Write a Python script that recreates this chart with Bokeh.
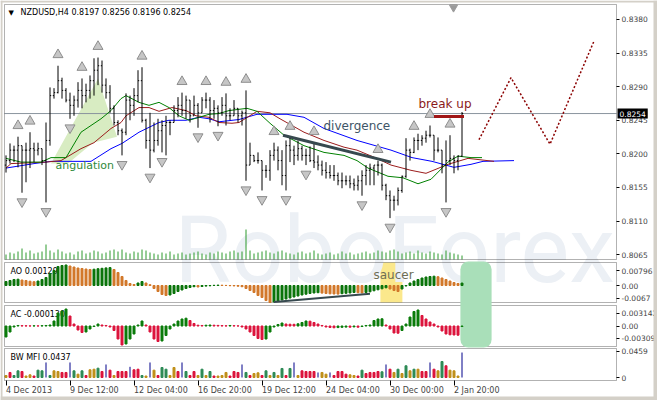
from bokeh.plotting import figure
from bokeh.models import (Range1d, FixedTicker, CustomJSTickFormatter, BoxAnnotation,
                          Label, LinearAxis)
from bokeh.core.properties import value
from bokeh.embed import file_html
from bokeh.resources import INLINE

SYMBOL = "NZDUSD,H4"

# ---------------- H4 bars ----------------
bar_open = [
    0.8185, 0.8191, 0.8205, 0.8205, 0.8211, 0.8205, 0.8205, 0.8207, 0.8205, 0.8207,
    0.8191, 0.8218, 0.8278, 0.8282, 0.8298, 0.8285, 0.8272, 0.8265, 0.8272, 0.8285,
    0.8278, 0.8285, 0.8298, 0.8312, 0.8318, 0.8292, 0.8282, 0.8261, 0.8242, 0.8231,
    0.8229, 0.8272, 0.8265, 0.8278, 0.8298, 0.8245, 0.8218, 0.8205, 0.8218, 0.8231,
    0.8238, 0.8242, 0.8242, 0.8258, 0.8265, 0.8258, 0.8272, 0.8251, 0.8265, 0.8255,
    0.8272, 0.8272, 0.8258, 0.8261, 0.8255, 0.8265, 0.8251, 0.8251, 0.8261, 0.8251,
    0.8255, 0.8185, 0.8198, 0.8191, 0.8191, 0.8178, 0.8178, 0.8198, 0.8205, 0.8191,
    0.8171, 0.8211, 0.8205, 0.8198, 0.8207, 0.8198, 0.8198, 0.8191, 0.8189, 0.8185,
    0.8178, 0.8175, 0.8171, 0.8171, 0.8164, 0.8164, 0.8164, 0.8160, 0.8158, 0.8164,
    0.8171, 0.8178, 0.8181, 0.8185, 0.8185, 0.8158, 0.8144, 0.8138, 0.8138, 0.8151,
    0.8170, 0.8205, 0.8202, 0.8218, 0.8218, 0.8221, 0.8225, 0.8225, 0.8205, 0.8205,
    0.8185, 0.8191, 0.8194, 0.8191, 0.8197]
bar_high = [
    0.8198, 0.8214, 0.8211, 0.8223, 0.8211, 0.8215, 0.8229, 0.8215, 0.8215, 0.8207,
    0.8242, 0.8289, 0.8288, 0.8318, 0.8302, 0.8288, 0.8282, 0.8278, 0.8296, 0.8301,
    0.8294, 0.8305, 0.8328, 0.8329, 0.8325, 0.8301, 0.8292, 0.8265, 0.8245, 0.8234,
    0.8281, 0.8278, 0.8288, 0.8312, 0.8316, 0.8247, 0.8255, 0.8242, 0.8247, 0.8245,
    0.8251, 0.8245, 0.8265, 0.8276, 0.8282, 0.8278, 0.8272, 0.8278, 0.8268, 0.8276,
    0.8282, 0.8276, 0.8272, 0.8265, 0.8276, 0.8281, 0.8261, 0.8272, 0.8261, 0.8258,
    0.8285, 0.8215, 0.8198, 0.8202, 0.8191, 0.8185, 0.8205, 0.8215, 0.8210, 0.8205,
    0.8218, 0.8222, 0.8211, 0.8218, 0.8211, 0.8207, 0.8210, 0.8215, 0.8198, 0.8191,
    0.8189, 0.8185, 0.8185, 0.8175, 0.8175, 0.8171, 0.8171, 0.8167, 0.8171, 0.8178,
    0.8185, 0.8187, 0.8185, 0.8191, 0.8187, 0.8160, 0.8151, 0.8144, 0.8155, 0.8171,
    0.8221, 0.8207, 0.8222, 0.8227, 0.8225, 0.8231, 0.8238, 0.8225, 0.8222, 0.8205,
    0.8218, 0.8225, 0.8198, 0.8198, 0.8256]
bar_low = [
    0.8175, 0.8187, 0.8189, 0.8182, 0.8148, 0.8162, 0.8181, 0.8189, 0.8198, 0.8185,
    0.8135, 0.8211, 0.8274, 0.8281, 0.8274, 0.8269, 0.8247, 0.8251, 0.8262, 0.8261,
    0.8269, 0.8274, 0.8278, 0.8292, 0.8282, 0.8274, 0.8255, 0.8238, 0.8225, 0.8198,
    0.8225, 0.8245, 0.8251, 0.8269, 0.8242, 0.8207, 0.8181, 0.8202, 0.8211, 0.8202,
    0.8198, 0.8225, 0.8242, 0.8249, 0.8251, 0.8247, 0.8242, 0.8251, 0.8235, 0.8255,
    0.8261, 0.8242, 0.8247, 0.8237, 0.8251, 0.8238, 0.8245, 0.8251, 0.8242, 0.8238,
    0.8164, 0.8185, 0.8189, 0.8187, 0.8151, 0.8168, 0.8164, 0.8191, 0.8178, 0.8158,
    0.8151, 0.8189, 0.8185, 0.8191, 0.8191, 0.8185, 0.8189, 0.8181, 0.8178, 0.8171,
    0.8167, 0.8167, 0.8164, 0.8158, 0.8154, 0.8158, 0.8154, 0.8151, 0.8151, 0.8144,
    0.8158, 0.8158, 0.8158, 0.8171, 0.8151, 0.8138, 0.8114, 0.8124, 0.8131, 0.8148,
    0.8168, 0.8191, 0.8201, 0.8205, 0.8211, 0.8215, 0.8222, 0.8191, 0.8202, 0.8174,
    0.8135, 0.8185, 0.8174, 0.8178, 0.8196]
bar_close = [
    0.8191, 0.8205, 0.8205, 0.8211, 0.8205, 0.8205, 0.8207, 0.8205, 0.8207, 0.8191,
    0.8218, 0.8278, 0.8282, 0.8298, 0.8285, 0.8272, 0.8265, 0.8272, 0.8285, 0.8278,
    0.8285, 0.8298, 0.8312, 0.8318, 0.8292, 0.8282, 0.8261, 0.8242, 0.8231, 0.8229,
    0.8272, 0.8265, 0.8278, 0.8298, 0.8245, 0.8218, 0.8205, 0.8218, 0.8231, 0.8238,
    0.8242, 0.8242, 0.8258, 0.8265, 0.8258, 0.8272, 0.8251, 0.8265, 0.8255, 0.8272,
    0.8272, 0.8258, 0.8261, 0.8255, 0.8265, 0.8251, 0.8251, 0.8261, 0.8251, 0.8255,
    0.8185, 0.8198, 0.8191, 0.8191, 0.8178, 0.8178, 0.8198, 0.8205, 0.8191, 0.8171,
    0.8211, 0.8205, 0.8198, 0.8207, 0.8198, 0.8198, 0.8191, 0.8189, 0.8185, 0.8178,
    0.8175, 0.8171, 0.8171, 0.8164, 0.8164, 0.8164, 0.8160, 0.8158, 0.8164, 0.8171,
    0.8178, 0.8181, 0.8185, 0.8185, 0.8158, 0.8144, 0.8138, 0.8138, 0.8151, 0.8170,
    0.8205, 0.8202, 0.8218, 0.8218, 0.8221, 0.8225, 0.8225, 0.8205, 0.8205, 0.8185,
    0.8191, 0.8194, 0.8191, 0.8197, 0.8254]
tick_volume = [
    500, 700, 600, 800, 1100, 700, 900, 600, 700, 800,
    1500, 900, 700, 1000, 800, 600, 700, 500, 800, 900,
    600, 700, 900, 800, 600, 700, 900, 1000, 800, 1000,
    700, 600, 800, 700, 1000, 900, 700, 600, 500, 700,
    600, 800, 500, 600, 700, 500, 600, 700, 800, 600,
    500, 700, 600, 800, 700, 600, 800, 900, 700, 800,
    3000, 900, 600, 700, 800, 900, 700, 600, 800, 900,
    700, 600, 500, 700, 800, 600, 700, 900, 600, 500,
    600, 700, 500, 600, 800, 600, 700, 500, 600, 700,
    800, 600, 700, 900, 800, 700, 900, 1000, 800, 600,
    700, 800, 600, 900, 700, 600, 800, 700, 600, 500,
    900, 700, 600, 500, 400]

# ---------------- Alligator (bar index, price) ----------------
jaw_x = [0, 7, 11.25, 21.25, 26.25, 29, 33.25, 38.25, 40.75, 45, 48.25, 50.75, 53.25,
         58.25, 62.75, 70.25, 74.5, 79.5, 87.75, 96.25, 101.5, 106.5, 112, 116.25, 119.25, 127]
jaw_y = [0.8181, 0.8187, 0.8190, 0.8190, 0.8207, 0.8214, 0.8229, 0.8242, 0.8245, 0.8245,
         0.8249, 0.8247, 0.8243, 0.8246, 0.8253, 0.8253, 0.8249, 0.8234, 0.8218, 0.8205,
         0.8195, 0.8190, 0.8182, 0.8186, 0.8190, 0.8191]
teeth_x = [0, 1.25, 10, 13.75, 18.75, 22, 26.25, 28.75, 30, 33.25, 35.75, 38.25, 41.5, 45,
           47.5, 50.75, 53.25, 56.5, 58.25, 62.75, 66, 68.5, 74.5, 79.5, 84.5, 87.75, 92.25,
           96.25, 101.25, 105, 110.5, 115.5, 122]
teeth_y = [0.8181, 0.8187, 0.8189, 0.8191, 0.8207, 0.8215, 0.8234, 0.8242, 0.8251, 0.8262,
           0.8262, 0.8257, 0.8262, 0.8258, 0.8251, 0.8249, 0.8242, 0.8241, 0.8242, 0.8257,
           0.8255, 0.8247, 0.8229, 0.8218, 0.8209, 0.8205, 0.8195, 0.8185, 0.8178, 0.8174,
           0.8186, 0.8194, 0.8190]
lips_x = [0, 3.75, 8.75, 11.25, 15, 18.75, 23.75, 26.25, 28.75, 30, 33.25, 35.75, 38.25,
          40.75, 43.25, 45.75, 48.25, 50.75, 53.25, 55.75, 60.25, 62.75, 66, 69.5, 74.5,
          79.5, 84.5, 87.75, 90.5, 95.5, 99.25, 103, 106.25, 110.5, 113, 116.25, 119]
lips_y = [0.8194, 0.8189, 0.8189, 0.8195, 0.8195, 0.8229, 0.8247, 0.8258, 0.8274, 0.8278,
          0.8269, 0.8265, 0.8269, 0.8262, 0.8251, 0.8245, 0.8249, 0.8253, 0.8254, 0.8258,
          0.8261, 0.8257, 0.8241, 0.8225, 0.8211, 0.8202, 0.8198, 0.8191, 0.8181, 0.8170,
          0.8168, 0.8160, 0.8166, 0.8189, 0.8197, 0.8195, 0.8195]

fractal_up = [3, 6, 13, 19, 23, 34, 44, 50, 55, 60, 67, 71, 77, 93, 102, 106, 111]
fractal_down = [4, 10, 16, 29, 36, 39, 48, 53, 60, 64, 70, 75, 89, 96, 110]

# ---------------- oscillators ----------------
ao = [
    0.00212, 0.00266, 0.00319, 0.00335, 0.00292, 0.00266, 0.00228, 0.00202, 0.00239, 0.00319,
    0.00425, 0.00637, 0.00797, 0.01009, 0.01062, 0.01089, 0.01035, 0.00982, 0.00929, 0.00903,
    0.00876, 0.00850, 0.00866, 0.00892, 0.00913, 0.00935, 0.00950, 0.00850, 0.00690, 0.00478,
    0.00266, 0.00106, 0.00053, 0.00133, 0.00212, 0.00133, 0.00042, -0.00159, -0.00319, -0.00478,
    -0.00531, -0.00504, -0.00425, -0.00319, -0.00239, -0.00159, -0.00106, -0.00064, -0.00080, -0.00053,
    -0.00032, -0.00016, 0.00011, 0.00021, 0.00016, 0.00005, -0.00011, -0.00021, -0.00037, -0.00064,
    -0.00159, -0.00266, -0.00372, -0.00531, -0.00637, -0.00797, -0.00903, -0.00876, -0.00823, -0.00770,
    -0.00717, -0.00664, -0.00611, -0.00558, -0.00504, -0.00462, -0.00425, -0.00398, -0.00382, -0.00404,
    -0.00425, -0.00441, -0.00451, -0.00457, -0.00435, -0.00414, -0.00398, -0.00372, -0.00382, -0.00393,
    -0.00372, -0.00335, -0.00281, -0.00228, -0.00175, -0.00122, -0.00186, -0.00266, -0.00319, -0.00186,
    -0.00027, 0.00133, 0.00239, 0.00319, 0.00398, 0.00451, 0.00478, 0.00494, 0.00467, 0.00398,
    0.00319, 0.00239, 0.00159, 0.00106, 0.00129]
ac = [
    -0.00276, -0.00151, -0.00025, 0.00013, 0.00008, 0.00005, 0.00003, 0.00005, 0.00003, 0.00008,
    0.00013, 0.00025, 0.00126, 0.00327, 0.00377, 0.00427, 0.00251, 0.00050, -0.00101, -0.00163,
    -0.00151, -0.00075, -0.00013, 0.00050, 0.00025, 0.00013, -0.00025, -0.00113, -0.00327, -0.00477,
    -0.00452, -0.00327, -0.00201, 0.00025, 0.00126, 0.00025, -0.00151, -0.00327, -0.00389, -0.00377,
    -0.00239, -0.00075, 0.00050, 0.00126, 0.00176, 0.00196, 0.00138, 0.00063, 0.00020, 0.00013,
    0.00020, 0.00025, 0.00020, 0.00015, 0.00010, 0.00005, 0.00013, 0.00008, 0.00003, -0.00025,
    -0.00075, -0.00151, -0.00239, -0.00314, -0.00339, -0.00327, -0.00151, -0.00025, 0.00038, 0.00075,
    0.00050, 0.00045, 0.00043, 0.00055, 0.00088, 0.00126, 0.00121, 0.00088, 0.00050, 0.00013,
    -0.00025, -0.00038, -0.00045, -0.00040, -0.00033, -0.00028, -0.00030, -0.00023, -0.00030, -0.00013,
    0.00013, 0.00025, 0.00138, 0.00176, 0.00181, 0.00025, -0.00075, -0.00176, -0.00181, -0.00113,
    0.00050, 0.00226, 0.00364, 0.00402, 0.00264, 0.00176, 0.00101, 0.00050, -0.00025, -0.00126,
    -0.00201, -0.00221, -0.00226, -0.00231, -0.00013]
mfi = [
    0.0035, 0.0088, 0.0035, 0.0117, 0.0105, 0.0026, 0.0047, 0.0026, 0.0128, 0.0117,
    0.0263, 0.0035, 0.0117, 0.0105, 0.0088, 0.0088, 0.0263, 0.0117, 0.0058, 0.0117,
    0.0035, 0.0135, 0.0145, 0.0163, 0.0105, 0.0228, 0.0128, 0.0035, 0.0105, 0.0105,
    0.0105, 0.0187, 0.0135, 0.0145, 0.0035, 0.0026, 0.0263, 0.0128, 0.0035, 0.0175,
    0.0145, 0.0035, 0.0175, 0.0105, 0.0263, 0.0105, 0.0035, 0.0105, 0.0035, 0.0145,
    0.0035, 0.0105, 0.0026, 0.0026, 0.0035, 0.0088, 0.0026, 0.0105, 0.0088, 0.0228,
    0.0088, 0.0035, 0.0070, 0.0082, 0.0035, 0.0117, 0.0035, 0.0088, 0.0035, 0.0158,
    0.0035, 0.0158, 0.0263, 0.0035, 0.0117, 0.0105, 0.0105, 0.0105, 0.0088, 0.0088,
    0.0058, 0.0088, 0.0035, 0.0105, 0.0105, 0.0058, 0.0047, 0.0035, 0.0026, 0.0128,
    0.0070, 0.0088, 0.0088, 0.0105, 0.0100, 0.0228, 0.0145, 0.0088, 0.0145, 0.0070,
    0.0205, 0.0117, 0.0145, 0.0145, 0.0105, 0.0105, 0.0263, 0.0145, 0.0117, 0.0280,
    0.0205, 0.0128, 0.0117, 0.0026, 0.0437]
# g = green, b = fade, f = fake, s = squat
mfi_kind = list("bsggsbbsgg" "fgbbssfgbg" "sbbgsfsbss" "sfssgbfbsg" "gbbsfgssbg"
                "bgsbbbsssf" "gsbbsgbgbg" "sgfbssssfb" "bfssssbbsg" "ssssgfsbgb"
                "gbgbssfsbg" "sbbbf")

# ---------------- drawn studies ----------------
forecast_x = [118.25, 126.25, 136, 147]
forecast_y = [0.8219, 0.8302, 0.8213, 0.8351]
divergence_x = [69.25, 96.25]
divergence_y = [0.8225, 0.8189]
ao_divergence_x = [67, 91]
ao_divergence_y = [-0.0088, -0.0044]
angulation_x = [23, 27.75, 21.75, 15.5, 11.25]
angulation_y = [0.8301, 0.8223, 0.8215, 0.8187, 0.8187]
break_x = [107, 114.5]
break_level = 0.8250
saucer_bars = (93.6, 99.1)
signal_bars = (113.6, 121.4)

# ---------------- axes ----------------
date_ticks = [0, 16, 32, 48, 64, 80, 96, 112]
date_labels = ["4 Dec 2013", "9 Dec 12:00", "12 Dec 04:00", "16 Dec 20:00",
               "19 Dec 12:00", "24 Dec 04:00", "30 Dec 00:00", "2 Jan 20:00"]
price_ticks = [0.8380, 0.8335, 0.8290, 0.8245, 0.8200, 0.8155, 0.8110, 0.8065]
ao_ticks, ao_tick_text = [0.00796, 0.0, -0.0067], ["0.00796", "0.00", "-0.0067"]
ac_ticks, ac_tick_text = [0.003142, 0.0, -0.00309], ["0.003142", "0.00", "-0.00309"]
mfi_ticks, mfi_tick_text = [0.0459, 0.0], ["0.0459", "0"]

# ---------------- layout on the canvas ----------------
W, H = 657, 400
CHART_L, CHART_R, CHART_B = 4, 616, 380   # panel area; value and date scales sit outside it
WINDOW_EDGE = "#d4d0c8"
BAR0_COL, BAR_STEP = 5.5, 4.0
PANELS = {  # name: (top row, bottom row, value at top, value at bottom)
    "main": (4, 259, 0.84000, 0.80586),
    "vol": (4, 259, 25500.0, 0.0),
    "ao": (262, 302, 0.01221, -0.00902),
    "ac": (305, 346, 0.00515, -0.00515),
    "mfi": (348, 380, 0.05075, -0.00525),
}


def unit(name):
    top, bot, vtop, vbot = PANELS[name]
    return (vtop - vbot) / (bot - top)


def row_value(name, row):
    top, bot, vtop, vbot = PANELS[name]
    return vtop - (row - top) * unit(name)


def value_row(name, v):
    top, bot, vtop, vbot = PANELS[name]
    return top + (vtop - v) / unit(name)


def full_range(name):
    return Range1d(start=row_value(name, H), end=row_value(name, 0))


def col_index(col):
    return (col - BAR0_COL) / BAR_STEP


FONT = "DejaVu Sans"
# advance widths (em) of DejaVu Sans, used to set the date captions flush left of their ticks
ADVANCE = {" ": 0.318, ":": 0.337, "D": 0.770, "J": 0.295, "a": 0.613, "c": 0.550,
           "e": 0.615, "n": 0.634}


def text_width(s, size):
    return sum(ADVANCE.get(ch, 0.636) for ch in s) * size


p = figure(width=W, height=H, x_range=Range1d(col_index(0), col_index(W)),
           y_range=full_range("main"), output_backend="svg", toolbar_location=None,
           y_axis_location="right", min_border=0)
p.extra_y_ranges = {n: full_range(n) for n in ("vol", "ao", "ac", "mfi")}
p.grid.visible = False
p.outline_line_color = None
p.background_fill_color = "white"
p.border_fill_color = "white"

idx = list(range(len(bar_close)))
chart_left, chart_right = col_index(CHART_L), col_index(CHART_R)

# watermark
p.text(x=[col_index(174)], y=[row_value("main", 250)], text=["RoboForex"],
       text_font=value("Roboto"), text_font_size="92px", text_color="#ecf0f5",
       text_baseline="alphabetic")

# highlighted areas
p.patch(angulation_x, angulation_y, fill_color="#d8ecc2", line_color=None)
p.add_layout(BoxAnnotation(left=saucer_bars[0], right=saucer_bars[1],
                           top=PANELS["ao"][2], bottom=PANELS["ao"][3], y_range_name="ao",
                           fill_color="#fbe88c", fill_alpha=1, line_color=None, level="underlay"))

# tick volumes along the bottom of the price panel
p.segment(x0=idx, x1=idx, y0=[0] * len(idx), y1=tick_volume, y_range_name="vol",
          line_color="#2c9a2c", line_width=1)

# price level of the last close
p.line([chart_left, chart_right], [bar_close[-1], bar_close[-1]], line_color="#8a949e",
       line_width=1)

# alligator
p.line(jaw_x, jaw_y, line_color="#0000ff", line_width=1)
p.line(teeth_x, teeth_y, line_color="#9b1c1c", line_width=1)
p.line(lips_x, lips_y, line_color="#008000", line_width=1)

# OHLC bars
tick_len = 0.3
p.segment(x0=idx, x1=idx, y0=bar_low, y1=bar_high, line_color="black", line_width=1)
p.segment(x0=[i - tick_len for i in idx], x1=idx, y0=bar_open, y1=bar_open,
          line_color="black", line_width=1)
p.segment(x0=idx, x1=[i + tick_len for i in idx], y0=bar_close, y1=bar_close,
          line_color="black", line_width=1)

# fractals
px_main = unit("main")
p.scatter(fractal_up, [bar_high[i] + 11 * px_main for i in fractal_up],
          marker="triangle", size=10, fill_color="#c6c6c6", line_color="#8e8e8e")
p.scatter(fractal_down, [bar_low[i] - 9 * px_main for i in fractal_down],
          marker="inverted_triangle", size=10, fill_color="#c6c6c6", line_color="#8e8e8e")
p.scatter([col_index(453)], [row_value("main", 7)], marker="inverted_triangle", size=8,
          fill_color="#9a9a9a", line_color="#9a9a9a")

# hand-drawn studies
p.line(divergence_x, divergence_y, line_color="#37494f", line_width=3)
p.line(break_x, [break_level, break_level], line_color="#a01616", line_width=3)
p.line(forecast_x, forecast_y, line_color="#8b0000", line_width=1.5, line_dash="2 2")

# panel frames
for name in ("main", "ao", "ac", "mfi"):
    top, bot, vtop, vbot = PANELS[name]
    kw = dict(left=chart_left, right=chart_right, top=vtop, bottom=vbot, fill_alpha=0,
              line_color="black", line_width=1, level="annotation")
    if name != "main":
        kw["y_range_name"] = name
    p.add_layout(BoxAnnotation(**kw))

# signal box over the AO and AC panels (covers the separators, sits under the bars)
box_kw = dict(left=signal_bars[0], right=signal_bars[1], top=PANELS["ao"][2] + unit("ao"),
              bottom=row_value("ao", 347), y_range_name="ao", fill_color="#a9dfb9",
              fill_alpha=1, line_color=None, level="annotation")
try:
    signal_box = BoxAnnotation(border_radius=8, **box_kw)
except AttributeError:
    signal_box = BoxAnnotation(**box_kw)
p.add_layout(signal_box)

# Awesome Oscillator
AO_UP, AO_DOWN = "#0b740b", "#d2782a"
ao_col = [AO_UP if i == 0 or ao[i] > ao[i - 1] else AO_DOWN for i in idx]
p.vbar(x=idx, top=ao, bottom=0, width=0.5, fill_color=ao_col, line_color=ao_col,
       line_width=1, y_range_name="ao", level="overlay")
p.line(ao_divergence_x, ao_divergence_y, line_color="#37494f", line_width=2,
       y_range_name="ao", level="overlay")

# Accelerator Oscillator
AC_UP, AC_DOWN = "#0a7d0a", "#dc143c"
ac_col = [AC_UP if i == 0 or ac[i] > ac[i - 1] else AC_DOWN for i in idx]
p.vbar(x=idx, top=ac, bottom=0, width=0.5, fill_color=ac_col, line_color=ac_col,
       line_width=1, y_range_name="ac", level="overlay")

# Market Facilitation Index
MFI_COLORS = {"g": "#2e8b57", "b": "#c0901a", "f": "#00008b", "s": "#dc143c"}
wide = [i for i in idx if mfi_kind[i] != "f"]
thin = [i for i in idx if mfi_kind[i] == "f"]
p.vbar(x=wide, top=[mfi[i] for i in wide], bottom=0, width=0.5,
       fill_color=[MFI_COLORS[mfi_kind[i]] for i in wide],
       line_color=[MFI_COLORS[mfi_kind[i]] for i in wide], line_width=1, y_range_name="mfi")
p.segment(x0=thin, x1=thin, y0=[0] * len(thin), y1=[mfi[i] for i in thin],
          line_color=MFI_COLORS["f"], line_width=1, y_range_name="mfi")


# texts
def add_label(x, y, text, size, color, panel="main", **extra):
    kw = dict(x=x, y=y, text=text, text_font=FONT, text_font_size=size, text_color=color,
              text_baseline="middle", **extra)
    if panel != "main":
        kw["y_range_name"] = panel
    lbl = Label(**kw)
    p.add_layout(lbl)
    return lbl


add_label(col_index(8), row_value("main", 12), "\u25bc", "7px", "black")
add_label(col_index(20), row_value("main", 12),
          f"{SYMBOL}  {bar_open[-1]:.4f} {bar_high[-1]:.4f} {bar_low[-1]:.4f} {bar_close[-1]:.4f}",
          "8px", "black")
add_label(col_index(10), row_value("ao", 271), f"AO {ao[-1]:.5f}", "8px", "black", "ao")
add_label(col_index(10), row_value("ac", 314), f"AC {ac[-1]:.6f}", "8px", "black", "ac")
add_label(col_index(10), row_value("mfi", 357), f"BW MFI {mfi[-1]:.4f}", "8px", "black", "mfi")
add_label(col_index(55), row_value("main", 165), "angulation", "11px", "#2f8a3a")
add_label(col_index(323), row_value("main", 125), "divergence", "12px", "#3e5567")
add_label(col_index(418), row_value("main", 103), "break up", "12px", "#8b1a1a")
add_label(col_index(373), row_value("ao", 274), "saucer", "12px", "#6e6e55", "ao")
# last-price tag in the value scale
tag = add_label(col_index(CHART_R + 1), bar_close[-1], f"{bar_close[-1]:.4f}", "7.5px",
                "white", background_fill_color="black", level="overlay")
try:
    tag.padding = 2
except AttributeError:
    pass

# window edges
for edge in (dict(right=col_index(2)), dict(left=col_index(W - 4)),
             dict(bottom=row_value("main", 2)), dict(top=row_value("main", H - 4))):
    p.add_layout(BoxAnnotation(fill_color=WINDOW_EDGE, fill_alpha=1, line_color=None,
                               level="overlay", **edge))

# right-hand value scale (price panel plus the three indicator panels)
tick_pos, tick_txt = [], []
for v in price_ticks:
    tick_pos.append(v)
    tick_txt.append(f"{v:.4f}")
for name, vals, txts in (("ao", ao_ticks, ao_tick_text), ("ac", ac_ticks, ac_tick_text),
                         ("mfi", mfi_ticks, mfi_tick_text)):
    for v, t in zip(vals, txts):
        tick_pos.append(row_value("main", value_row(name, v)))
        tick_txt.append(t)

NEAREST = """
let best = 0, d = Infinity;
for (let i = 0; i < pos.length; i++) {
  const e = Math.abs(pos[i] - tick);
  if (e < d) { d = e; best = i; }
}
return txt[best];
"""
ya = p.yaxis[0]
ya.fixed_location = chart_right
ya.ticker = FixedTicker(ticks=tick_pos, minor_ticks=[])
ya.formatter = CustomJSTickFormatter(args=dict(pos=tick_pos, txt=tick_txt), code=NEAREST)
ya.axis_line_color = None
ya.major_tick_in = 0
ya.major_tick_out = 3
ya.minor_tick_out = 0
ya.major_label_standoff = 2
ya.major_label_text_font = FONT
ya.major_label_text_font_size = "7.5px"

# date scale: tick marks on the first axis, captions (flush left of each tick) on a second
chart_bottom = row_value("main", CHART_B)
xa = p.xaxis[0]
xa.fixed_location = chart_bottom
xa.ticker = FixedTicker(ticks=date_ticks, minor_ticks=[])
xa.formatter = CustomJSTickFormatter(code="return '';")
xa.axis_line_color = None
xa.major_tick_in = 0
xa.major_tick_out = 5
xa.minor_tick_out = 0
xa.major_label_standoff = 0
xa.major_label_text_font_size = "1px"

caption_pos = [t + text_width(s, 8) / 2 / BAR_STEP for t, s in zip(date_ticks, date_labels)]
xb = LinearAxis(ticker=FixedTicker(ticks=caption_pos, minor_ticks=[]),
                formatter=CustomJSTickFormatter(args=dict(pos=caption_pos, txt=date_labels),
                                                code=NEAREST),
                fixed_location=chart_bottom,
                axis_line_color=None, major_tick_in=0, major_tick_out=0, minor_tick_out=0,
                minor_tick_in=0, major_label_standoff=5, major_label_text_font=FONT,
                major_label_text_font_size="8px")
p.add_layout(xb, "below")

open("out.html", "w").write(file_html(p, INLINE))
